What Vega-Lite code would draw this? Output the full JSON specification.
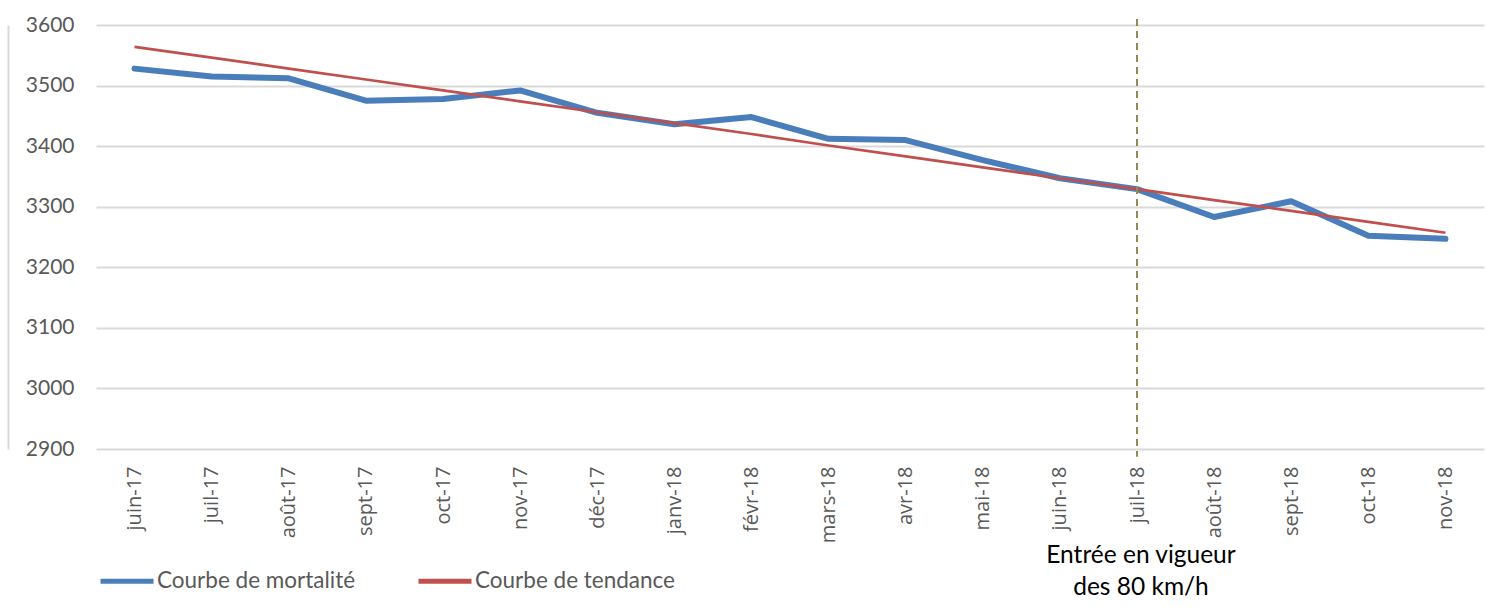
{
  "$schema": "https://vega.github.io/schema/vega-lite/v6.json",
  "width": 1388,
  "height": 424,
  "autosize": {"type": "none"},
  "padding": {"left": 96, "top": 25, "right": 15, "bottom": 162},
  "background": "white",
  "config": {"view": {"stroke": null}},
  "datasets": {
    "series": [
      {"mois": "juin-17", "serie": "Courbe de mortalité", "valeur": 3528},
      {"mois": "juil-17", "serie": "Courbe de mortalité", "valeur": 3515},
      {"mois": "août-17", "serie": "Courbe de mortalité", "valeur": 3512},
      {"mois": "sept-17", "serie": "Courbe de mortalité", "valeur": 3475},
      {"mois": "oct-17", "serie": "Courbe de mortalité", "valeur": 3478},
      {"mois": "nov-17", "serie": "Courbe de mortalité", "valeur": 3492},
      {"mois": "déc-17", "serie": "Courbe de mortalité", "valeur": 3455},
      {"mois": "janv-18", "serie": "Courbe de mortalité", "valeur": 3436},
      {"mois": "févr-18", "serie": "Courbe de mortalité", "valeur": 3448},
      {"mois": "mars-18", "serie": "Courbe de mortalité", "valeur": 3412},
      {"mois": "avr-18", "serie": "Courbe de mortalité", "valeur": 3410},
      {"mois": "mai-18", "serie": "Courbe de mortalité", "valeur": 3377},
      {"mois": "juin-18", "serie": "Courbe de mortalité", "valeur": 3347},
      {"mois": "juil-18", "serie": "Courbe de mortalité", "valeur": 3329},
      {"mois": "août-18", "serie": "Courbe de mortalité", "valeur": 3283},
      {"mois": "sept-18", "serie": "Courbe de mortalité", "valeur": 3309},
      {"mois": "oct-18", "serie": "Courbe de mortalité", "valeur": 3252},
      {"mois": "nov-18", "serie": "Courbe de mortalité", "valeur": 3247},
      {"mois": "juin-17", "serie": "Courbe de tendance", "valeur": 3564},
      {"mois": "juil-17", "serie": "Courbe de tendance", "valeur": 3546},
      {"mois": "août-17", "serie": "Courbe de tendance", "valeur": 3528},
      {"mois": "sept-17", "serie": "Courbe de tendance", "valeur": 3510},
      {"mois": "oct-17", "serie": "Courbe de tendance", "valeur": 3492},
      {"mois": "nov-17", "serie": "Courbe de tendance", "valeur": 3474},
      {"mois": "déc-17", "serie": "Courbe de tendance", "valeur": 3456},
      {"mois": "janv-18", "serie": "Courbe de tendance", "valeur": 3438},
      {"mois": "févr-18", "serie": "Courbe de tendance", "valeur": 3420},
      {"mois": "mars-18", "serie": "Courbe de tendance", "valeur": 3401},
      {"mois": "avr-18", "serie": "Courbe de tendance", "valeur": 3383},
      {"mois": "mai-18", "serie": "Courbe de tendance", "valeur": 3365},
      {"mois": "juin-18", "serie": "Courbe de tendance", "valeur": 3347},
      {"mois": "juil-18", "serie": "Courbe de tendance", "valeur": 3329},
      {"mois": "août-18", "serie": "Courbe de tendance", "valeur": 3311},
      {"mois": "sept-18", "serie": "Courbe de tendance", "valeur": 3293},
      {"mois": "oct-18", "serie": "Courbe de tendance", "valeur": 3275},
      {"mois": "nov-18", "serie": "Courbe de tendance", "valeur": 3257}
    ],
    "repere": [
      {"mois": "juil-18", "haut": 3610, "bas": 2887, "texte_y": 2712, "texte": ["Entrée en vigueur", "des 80 km/h"]}
    ]
  },
  "encoding": {
    "x": {
      "field": "mois",
      "type": "ordinal",
      "scale": {
        "type": "point",
        "domain": ["juin-17", "juil-17", "août-17", "sept-17", "oct-17", "nov-17", "déc-17", "janv-18", "févr-18", "mars-18", "avr-18", "mai-18", "juin-18", "juil-18", "août-18", "sept-18", "oct-18", "nov-18"],
        "padding": 0.5
      },
      "axis": {
        "title": null,
        "domain": false,
        "ticks": false,
        "grid": false,
        "labelAngle": -90,
        "labelAlign": "right",
        "labelBaseline": "middle",
        "labelPadding": 17,
        "labelFont": "Open Sans",
        "labelFontSize": 20,
        "labelColor": "#595959"
      }
    }
  },
  "layer": [
    {
      "data": {"name": "series"},
      "transform": [{"filter": "datum.serie === 'Courbe de mortalité'"}],
      "mark": {"type": "line", "strokeWidth": 6, "strokeCap": "round", "strokeJoin": "round"},
      "encoding": {
        "y": {
          "field": "valeur",
          "type": "quantitative",
          "scale": {"domain": [2900, 3600], "nice": false, "zero": false},
          "axis": {
            "title": null,
            "values": [2900, 3000, 3100, 3200, 3300, 3400, 3500, 3600],
            "format": "d",
            "ticks": false,
            "domain": true,
            "domainColor": "#d9d9d9",
            "domainWidth": 2,
            "offset": 88,
            "grid": true,
            "gridColor": "#d9d9d9",
            "gridWidth": 2,
            "labelPadding": -66,
            "labelFont": "Lato",
            "labelFontSize": 21,
            "labelColor": "#595959"
          }
        },
        "color": {
          "field": "serie",
          "type": "nominal",
          "scale": {"domain": ["Courbe de mortalité", "Courbe de tendance"], "range": ["#4a7ebb", "#c0504d"]},
          "legend": {
            "title": null,
            "orient": "none",
            "legendX": 2,
            "legendY": 527,
            "direction": "horizontal",
            "columns": 2,
            "columnPadding": 52,
            "symbolType": "stroke",
            "symbolSize": 2809,
            "symbolStrokeWidth": 5,
            "labelOffset": 1,
            "labelFont": "Lato",
            "labelFontSize": 22.5,
            "labelColor": "#595959",
            "labelLimit": 400,
            "padding": 0
          }
        }
      }
    },
    {
      "data": {"name": "series"},
      "transform": [{"filter": "datum.serie === 'Courbe de tendance'"}],
      "mark": {"type": "line", "strokeWidth": 2.7},
      "encoding": {
        "y": {"field": "valeur", "type": "quantitative"},
        "color": {"field": "serie", "type": "nominal"}
      }
    },
    {
      "data": {"name": "repere"},
      "mark": {"type": "rule", "color": "#948a54", "strokeWidth": 2, "strokeDash": [7, 5]},
      "encoding": {
        "y": {"field": "haut", "type": "quantitative"},
        "y2": {"field": "bas"}
      }
    },
    {
      "data": {"name": "repere"},
      "mark": {"type": "text", "font": "Lato", "fontSize": 24.5, "color": "#000000", "align": "center", "baseline": "alphabetic", "lineHeight": 32, "dx": 4},
      "encoding": {
        "y": {"field": "texte_y", "type": "quantitative"},
        "text": {"field": "texte"}
      }
    }
  ]
}
